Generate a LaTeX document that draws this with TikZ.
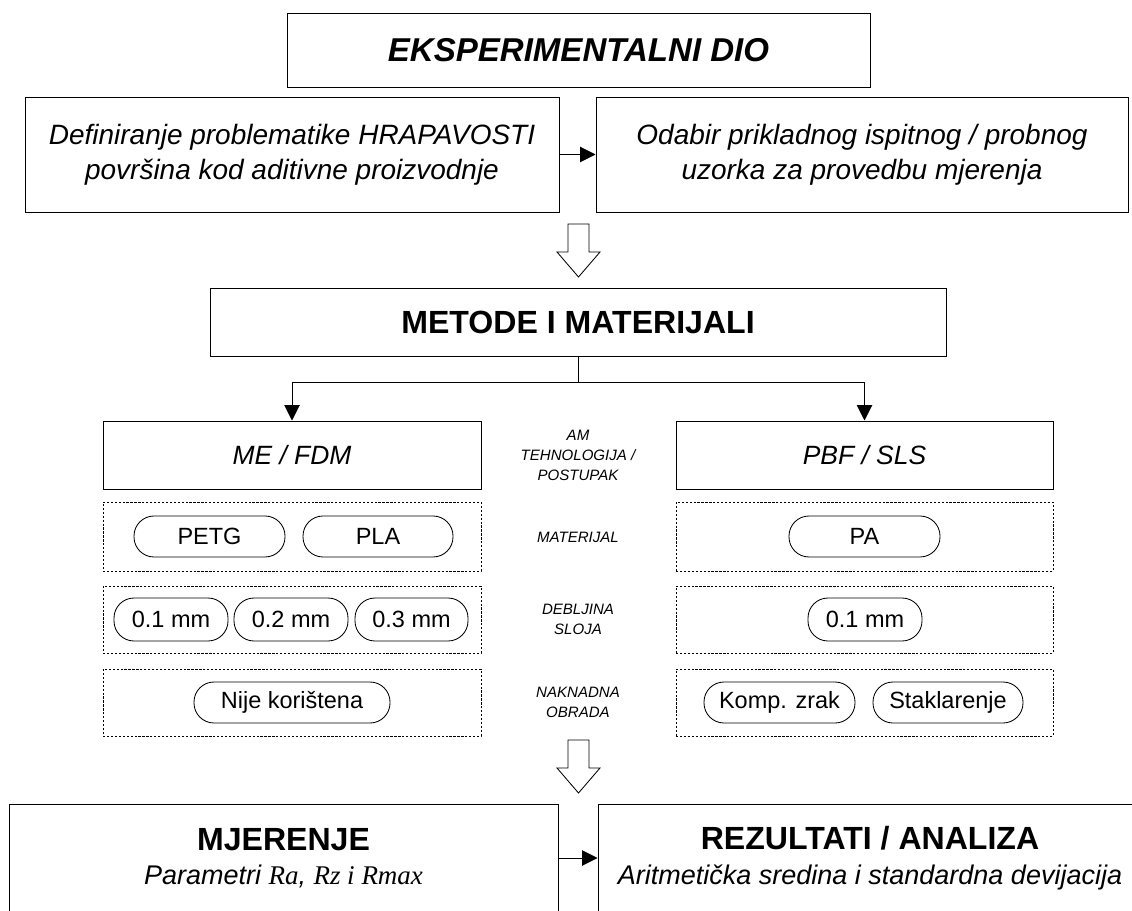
\documentclass[tikz,border=0pt]{standalone}
\usepackage{fontspec}
\setmainfont{Liberation Sans}
\newfontfamily\serifit{Liberation Serif}
\usetikzlibrary{arrows.meta}

\newlength\pxl
\setlength\pxl{0.025cm}

\tikzset{
  frame/.style={draw, line width=0.7pt, inner sep=0pt, align=center},
  group/.style={draw, line width=0.6pt, dash pattern=on 1.6pt off 1.2pt, inner sep=0pt},
  pill/.style={draw, line width=0.6pt, rounded corners=20\pxl, minimum height=41\pxl,
    inner sep=0pt, font=\fontsize{16.7}{20}\selectfont},
  tag/.style={align=center, font=\itshape\fontsize{10.7}{14.2}\selectfont},
  link/.style={-{Triangle[length=11pt,width=11pt]}, line width=0.7pt},
  hollow/.style={draw, line width=0.6pt, fill=white}
}

\begin{document}
\begin{tikzpicture}[x=0.025cm, y=-0.025cm]
  \clip (0,0) rectangle (1132,911);

  % Naslov i uvodni dio
  \node[frame, minimum width=583\pxl, minimum height=74\pxl,
    font=\bfseries\itshape\fontsize{23.5}{27}\selectfont] (eksp) at (578.5,50) {EKSPERIMENTALNI DIO};
  \node[frame, minimum width=534\pxl, minimum height=115\pxl,
    font=\itshape\fontsize{19.9}{24.9}\selectfont] (defin) at (292,154.5)
    {Definiranje problematike HRAPAVOSTI\\površina kod aditivne proizvodnje};
  \node[frame, minimum width=532\pxl, minimum height=115\pxl,
    font=\itshape\fontsize{19.9}{24.9}\selectfont] (odabir) at (862,154.5)
    {Odabir prikladnog ispitnog / probnog\\uzorka za provedbu mjerenja};
  \draw[link] (defin) -- (odabir);

  \draw[hollow] (568,224) -- (589,224) -- (589,252) -- (600,252) -- (578.5,277)
    -- (557,252) -- (568,252) -- cycle;

  % Metode i materijali
  \node[frame, minimum width=736\pxl, minimum height=68\pxl,
    font=\bfseries\fontsize{22.8}{27}\selectfont] (metode) at (578,322) {METODE I MATERIJALI};
  \coordinate (split) at (578,382);

  \node[frame, minimum width=378\pxl, minimum height=68\pxl,
    font=\itshape\fontsize{18.8}{22}\selectfont] (mefdm) at (292,455) {ME / FDM};
  \node[frame, minimum width=377\pxl, minimum height=68\pxl,
    font=\itshape\fontsize{18.8}{22}\selectfont] (pbf) at (864.5,455) {PBF / SLS};
  \draw (metode) -- (split);
  \draw[link] (split) -| (mefdm);
  \draw[link] (split) -| (pbf);

  \node[group, minimum width=378\pxl, minimum height=69\pxl] (matl) at (292,536.5) {};
  \node[group, minimum width=378\pxl, minimum height=67\pxl] (slojl) at (292,619.5) {};
  \node[group, minimum width=378\pxl, minimum height=67\pxl] (obrl) at (292,702.5) {};
  \node[group, minimum width=377\pxl, minimum height=69\pxl] (matr) at (864.5,536.5) {};
  \node[group, minimum width=377\pxl, minimum height=67\pxl] (slojr) at (864.5,619.5) {};
  \node[group, minimum width=377\pxl, minimum height=67\pxl] (obrr) at (864.5,702.5) {};

  % Oznake u sredini
  \node[tag] (tehn) at (578,455) {AM\\TEHNOLOGIJA /\\POSTUPAK};
  \node[tag] (mat) at (578,537) {MATERIJAL};
  \node[tag] (sloj) at (578,619.5) {DEBLJINA\\SLOJA};
  \node[tag] (obr) at (578,702.5) {NAKNADNA\\OBRADA};

  % Materijali
  \node[pill, minimum width=151\pxl] (petg) at (209.5,536.5) {PETG};
  \node[pill, minimum width=150\pxl] (pla) at (378,536.5) {PLA};
  \node[pill, minimum width=151\pxl] (pa) at (864.5,536.5) {PA};

  % Debljina sloja
  \node[pill, minimum width=114\pxl, minimum height=43\pxl] (s1) at (171,619.5) {0.1 mm};
  \node[pill, minimum width=114\pxl, minimum height=43\pxl] (s2) at (291,619.5) {0.2 mm};
  \node[pill, minimum width=113\pxl, minimum height=43\pxl] (s3) at (411.5,619.5) {0.3 mm};
  \node[pill, minimum width=114\pxl, minimum height=43\pxl] (s4) at (865,619.5) {0.1 mm};

  % Naknadna obrada
  \node[pill, minimum width=196\pxl] (nije) at (292,702.5) {Nije korištena};
  \node[pill, minimum width=151\pxl] (komp) at (779.5,702.5) {Komp. zrak};
  \node[pill, minimum width=150\pxl] (stakl) at (948,702.5) {Staklarenje};

  \draw[hollow] (568,740) -- (589,740) -- (589,768) -- (600,768) -- (578.5,793)
    -- (557,768) -- (568,768) -- cycle;

  % Mjerenje i rezultati
  \node[frame, minimum width=549\pxl, minimum height=108\pxl,
    font=\itshape\fontsize{19.2}{24.5}\selectfont] (mjer) at (283.5,858)
    {{\bfseries\upshape\fontsize{22.8}{24.5}\selectfont MJERENJE}\\
     Parametri {\serifit\itshape Ra}, {\serifit\itshape Rz i Rmax}};
  \node[frame, minimum width=544\pxl, minimum height=108\pxl,
    font=\itshape\fontsize{19.2}{24.5}\selectfont] (rez) at (870,858)
    {{\bfseries\upshape\fontsize{22.8}{24.5}\selectfont REZULTATI / ANALIZA}\\
     Aritmetička sredina i standardna devijacija};
  \draw[link] (mjer) -- (rez);
\end{tikzpicture}
\end{document}
